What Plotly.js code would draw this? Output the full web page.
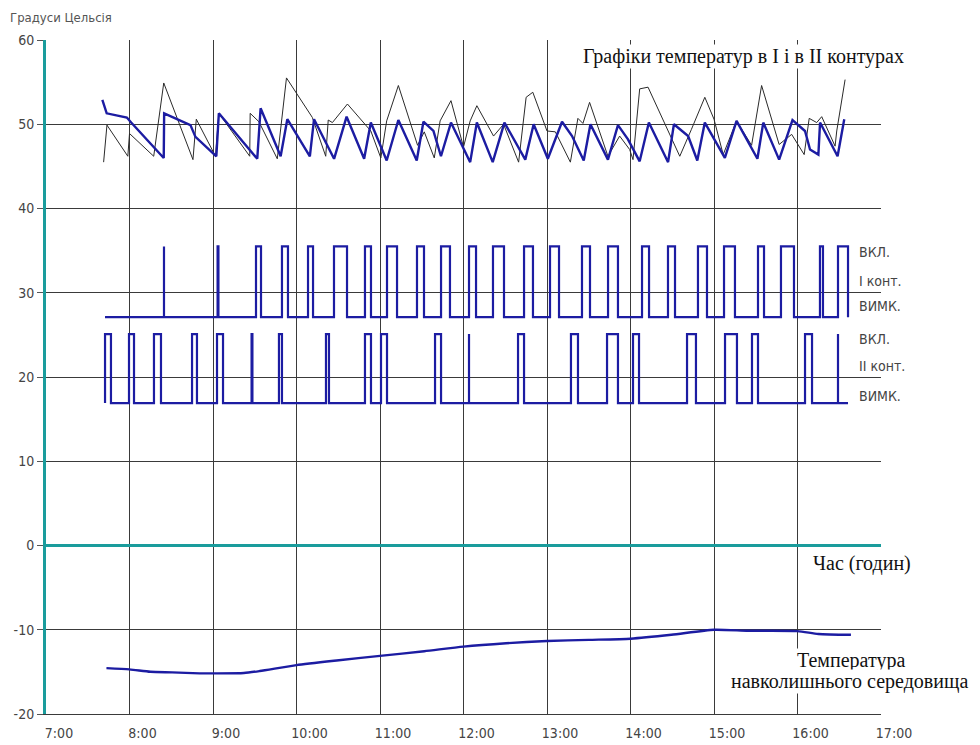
<!DOCTYPE html>
<html>
<head>
<meta charset="utf-8">
<script src="https://cdn.plot.ly/plotly-3.0.1.min.js"></script>
<style>html,body{margin:0;padding:0;background:#fff;}#chart{width:980px;height:745px;}</style>
</head>
<body>
<div id="chart"></div>
<script>
// ---- Data (time in decimal hours) ----
var hourTicks = [7, 8, 9, 10, 11, 12, 13, 14, 15, 16, 17];
var hourLabels = ['7:00', '8:00', '9:00', '10:00', '11:00', '12:00', '13:00', '14:00', '15:00', '16:00', '17:00'];
var tempTicks = [-20, -10, 0, 10, 20, 30, 40, 50, 60];
var tempLabels = ['-20', '-10', '0', '10', '20', '30', '40', '50', '60'];

// thick blue temperature curve
var blueTime = [7.675, 7.727, 7.968, 8.02, 8.41, 8.415, 8.73, 8.79, 9.04, 9.07, 9.53, 9.57, 9.81, 9.89, 10.16, 10.21, 10.45, 10.6, 10.81, 10.89, 11.08, 11.22, 11.44, 11.52, 11.64, 11.73, 11.85, 12.08, 12.16, 12.35, 12.49, 12.74, 12.84, 13.01, 13.18, 13.3, 13.44, 13.52, 13.73, 13.85, 13.97, 14.11, 14.22, 14.45, 14.52, 14.69, 14.8, 14.89, 15.13, 15.27, 15.52, 15.59, 15.78, 15.94, 16.09, 16.15, 16.25, 16.27, 16.48, 16.56];
var blueTemp = [52.9, 51.3, 50.8, 50.2, 46.0, 51.3, 49.9, 48.5, 46.2, 51.3, 45.9, 51.9, 46.2, 50.6, 46.2, 50.6, 45.9, 50.9, 45.9, 50.2, 45.7, 50.5, 45.7, 50.3, 49.2, 46.2, 50.2, 45.5, 50.2, 45.5, 50.2, 45.8, 50.0, 45.9, 50.3, 48.6, 45.7, 50.0, 45.8, 49.9, 48.2, 45.6, 50.2, 45.5, 50.0, 48.6, 45.7, 50.2, 46.0, 50.4, 45.9, 50.2, 45.8, 50.5, 49.2, 47.0, 46.4, 50.2, 46.2, 50.6];

// thin dark temperature curve
var greyTime = [7.69, 7.73, 7.98, 8.0, 8.29, 8.41, 8.76, 8.8, 9.03, 9.07, 9.44, 9.445, 9.55, 9.77, 9.88, 10.19, 10.35, 10.38, 10.43, 10.61, 10.89, 11.01, 11.08, 11.22, 11.45, 11.53, 11.65, 11.72, 11.85, 12.0, 12.08, 12.16, 12.36, 12.48, 12.66, 12.75, 12.83, 13.0, 13.1, 13.28, 13.37, 13.43, 13.51, 13.73, 13.87, 13.99, 14.03, 14.11, 14.21, 14.59, 14.73, 14.78, 14.89, 15.0, 15.11, 15.27, 15.45, 15.57, 15.78, 15.93, 16.08, 16.14, 16.23, 16.29, 16.45, 16.47, 16.57];
var greyTemp = [45.5, 49.9, 46.2, 48.9, 46.2, 54.9, 45.8, 50.6, 46.2, 51.3, 46.2, 51.3, 50.3, 45.9, 55.5, 50.8, 46.2, 50.5, 50.2, 52.4, 49.2, 46.0, 50.4, 54.6, 47.5, 49.1, 46.0, 50.4, 52.8, 47.3, 50.4, 52.2, 48.6, 50.0, 45.5, 53.2, 53.8, 49.2, 49.1, 45.5, 50.7, 50.1, 52.6, 46.2, 48.6, 47.0, 45.8, 54.2, 54.4, 46.2, 49.4, 50.6, 53.2, 50.6, 46.4, 50.4, 47.5, 54.6, 47.6, 48.8, 46.4, 50.7, 50.2, 50.9, 47.4, 49.2, 55.3];

// contour I pump state (0 = off, 1 = on), switching times
var c1Time = [7.707, 8.413, 8.413, 9.055, 9.065, 9.515, 9.575, 9.826, 9.898, 10.138, 10.198, 10.449, 10.605, 10.82, 10.892, 11.084, 11.204, 11.443, 11.527, 11.731, 11.838, 12.066, 12.15, 12.353, 12.485, 12.725, 12.832, 13.036, 13.144, 13.419, 13.515, 13.731, 13.85, 14.138, 14.222, 14.449, 14.533, 14.808, 14.916, 15.12, 15.251, 15.527, 15.599, 15.802, 15.958, 16.269, 16.305, 16.485, 16.605];
var c1State = [0, 1, 0, 1, 0, 1, 0, 1, 0, 1, 0, 1, 0, 1, 0, 1, 0, 1, 0, 1, 0, 1, 0, 1, 0, 1, 0, 1, 0, 1, 0, 1, 0, 1, 0, 1, 0, 1, 0, 1, 0, 1, 0, 1, 0, 1, 0, 1, 0];

// contour II pump state
var c2Time = [7.707, 7.707, 7.778, 7.994, 8.054, 8.293, 8.377, 8.749, 8.808, 9.048, 9.12, 9.462, 9.472, 9.79, 9.826, 10.353, 10.389, 10.82, 10.892, 11.012, 11.084, 11.659, 11.731, 12.066, 12.066, 12.653, 12.725, 13.287, 13.371, 13.719, 13.85, 14.03, 14.102, 14.677, 14.784, 15.132, 15.275, 15.455, 15.527, 16.09, 16.174, 16.485, 16.485, 16.605];
var c2State = [0, 1, 0, 1, 0, 1, 0, 1, 0, 1, 0, 1, 0, 1, 0, 1, 0, 1, 0, 1, 0, 1, 0, 1, 0, 1, 0, 1, 0, 1, 0, 1, 0, 1, 0, 1, 0, 1, 0, 1, 0, 1, 0, 0];

// outdoor temperature
var outTime = [7.724, 8.0, 8.25, 8.51, 8.84, 9.0, 9.37, 9.56, 10.0, 10.48, 11.0, 11.53, 12.0, 12.51, 13.0, 13.5, 14.0, 14.49, 15.0, 15.41, 16.0, 16.25, 16.64];
var outTemp = [-14.55, -14.7, -14.98, -15.06, -15.18, -15.18, -15.14, -14.9, -14.2, -13.65, -13.1, -12.55, -12.0, -11.6, -11.33, -11.2, -11.06, -10.6, -10.0, -10.12, -10.16, -10.5, -10.6];

// signal levels on the temperature axis
var c1Levels = [27.1, 35.5];
var c2Levels = [16.9, 25.1];

// ---- Styling ----
var BLUE = '#1c1ca2';
var TEAL = '#1a9c9c';
var GRID = '#3a3a3a';
var NARROW = '"Liberation Sans Narrow", "DejaVu Sans Condensed", "Arial Narrow", sans-serif';
var SERIF = '"Liberation Serif", "DejaVu Serif", "Times New Roman", serif';

var traces = [
  {x: greyTime, y: greyTemp, mode: 'lines', line: {color: '#2a2a2a', width: 1}, hoverinfo: 'skip'},
  {x: blueTime, y: blueTemp, mode: 'lines', line: {color: BLUE, width: 2.4}, hoverinfo: 'skip'},
  {x: c1Time, y: c1State.map(function (s) { return c1Levels[s]; }), mode: 'lines', line: {color: BLUE, width: 2.2, shape: 'hv'}, hoverinfo: 'skip'},
  {x: c2Time, y: c2State.map(function (s) { return c2Levels[s]; }), mode: 'lines', line: {color: BLUE, width: 2.2, shape: 'hv'}, hoverinfo: 'skip'},
  {x: outTime, y: outTemp, mode: 'lines', line: {color: BLUE, width: 2.4, shape: 'spline', smoothing: 0.6}, hoverinfo: 'skip'}
];

function sideLabel(text, y) {
  return {x: 16.72, y: y, xref: 'x', yref: 'y', text: text, showarrow: false, xanchor: 'left', yanchor: 'middle',
          font: {family: NARROW, size: 14, color: '#444'}, bgcolor: '#fff', borderpad: 0};
}

var layout = {
  width: 980, height: 745,
  margin: {l: 46, r: 99, t: 40, b: 31},
  paper_bgcolor: '#fff', plot_bgcolor: '#fff',
  showlegend: false,
  xaxis: {
    range: [7, 17], tickmode: 'array', tickvals: hourTicks, ticktext: hourLabels,
    showgrid: true, gridcolor: GRID, gridwidth: 1,
    showline: true, linecolor: GRID, linewidth: 1,
    zeroline: false, ticks: '', ticklabelshift: 13, ticklabelstandoff: 6,
    tickfont: {family: NARROW, size: 14, color: '#444'}, fixedrange: true
  },
  yaxis: {
    range: [-20, 60], tickmode: 'array', tickvals: tempTicks, ticktext: tempLabels,
    showgrid: true, gridcolor: GRID, gridwidth: 1,
    showline: true, linecolor: TEAL, linewidth: 3,
    zeroline: true, zerolinecolor: TEAL, zerolinewidth: 3,
    ticks: 'outside', ticklen: 6, tickcolor: '#555', tickwidth: 1,
    tickfont: {family: NARROW, size: 14, color: '#444'}, fixedrange: true
  },
  annotations: [
    {x: -0.0455, y: 1.033, xref: 'paper', yref: 'paper', text: 'Градуси Цельсія', showarrow: false,
     xanchor: 'left', yanchor: 'middle', font: {family: NARROW, size: 13, color: '#555'}},
    {x: 1.0287, y: 58, xref: 'paper', yref: 'y', text: 'Графіки температур в І і в ІІ контурах', showarrow: false,
     xanchor: 'right', yanchor: 'middle', font: {family: SERIF, size: 20, color: '#111'}, bgcolor: '#fff', borderpad: 0},
    {x: 16.77, y: -2.1, xref: 'x', yref: 'y', text: 'Час (годин)', showarrow: false,
     xanchor: 'center', yanchor: 'middle', font: {family: SERIF, size: 20, color: '#111'}, bgcolor: '#fff', borderpad: 0},
    {x: 16.64, y: -13.6, xref: 'x', yref: 'y', text: 'Температура', showarrow: false,
     xanchor: 'center', yanchor: 'middle', font: {family: SERIF, size: 20, color: '#111'}, bgcolor: '#fff', borderpad: 0},
    {x: 16.62, y: -16.1, xref: 'x', yref: 'y', text: 'навколишнього середовища', showarrow: false,
     xanchor: 'center', yanchor: 'middle', font: {family: SERIF, size: 20, color: '#111'}, bgcolor: '#fff', borderpad: 0},
    sideLabel('ВКЛ.', 34.8),
    sideLabel('І конт.', 31.4),
    sideLabel('ВИМК.', 28.4),
    sideLabel('ВКЛ.', 24.5),
    sideLabel('ІІ конт.', 21.3),
    sideLabel('ВИМК.', 17.8)
  ]
};

Plotly.newPlot('chart', traces, layout, {staticPlot: true, displayModeBar: false});
</script>
</body>
</html>
